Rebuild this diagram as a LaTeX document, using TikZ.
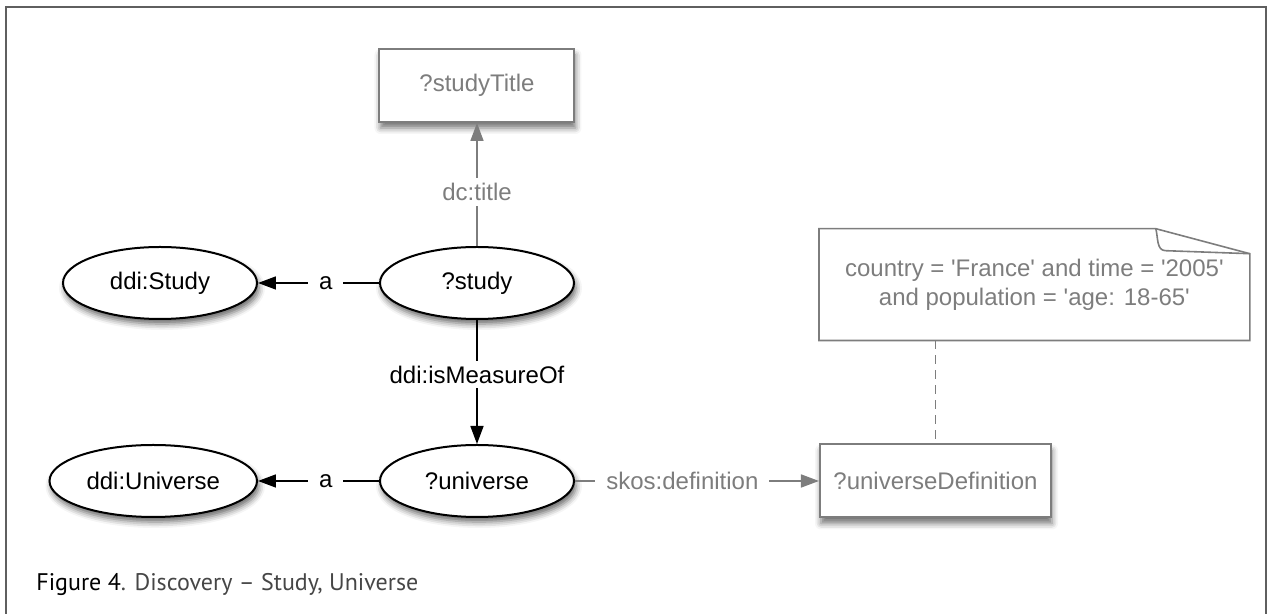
\documentclass[tikz,border=0pt]{standalone}
\usepackage{fontspec}
\setmainfont{Liberation Sans}
\newfontfamily\captionfont{PT Sans}
\usetikzlibrary{positioning, arrows.meta, shapes.geometric, shadows.blur}
\definecolor{lightgrey}{RGB}{125,125,125}
\definecolor{framegrey}{RGB}{95,95,95}
\newcommand{\sq}{\textquotesingle}

\begin{document}
\begin{tikzpicture}[
    font=\fontsize{12pt}{14.5pt}\selectfont,
    res/.style={ellipse, draw, line width=1pt, fill=white, minimum width=97pt, minimum height=36pt,
        blur shadow={shadow xshift=1pt, shadow yshift=-2.5pt, shadow blur radius=3pt, shadow opacity=60}},
    lit/.style={rectangle, draw=lightgrey, text=lightgrey, line width=1pt, fill=white, minimum height=36.5pt,
        blur shadow={shadow xshift=0.5pt, shadow yshift=-3pt, shadow blur radius=3pt, shadow opacity=55}},
    lbl/.style={pos=0.44, fill=white, inner xsep=5.5pt, inner ysep=2.5pt},
    tip/.style={-{Triangle[length=9pt, width=6.5pt]}},
    ]

   \useasboundingbox (-238.5pt,-165.5pt) rectangle (397pt,141.5pt);
   \draw[framegrey, line width=0.75pt] (-235.5pt,-165.5pt) -- (-235.5pt,138pt) -- (394.5pt,138pt) -- (394.5pt,-165.5pt);

   % Study row
   \node[res] (study) {?study};
   \node[res, left=60.5pt of study] (ddistudy) {ddi:Study};
   \node[lit, minimum width=97.5pt, above=61.5pt of study] (title) {?studyTitle};

   % Universe row
   \node[res, below=62pt of study] (universe) {?universe};
   \node[res, left=60.5pt of universe] (ddiuniverse) {ddi:Universe};
   \node[lit, minimum width=115.5pt, right=122pt of universe] (udef) {?universeDefinition};

   % Note
   \node[text=lightgrey, align=center, minimum width=215pt, minimum height=55.5pt,
         above=51.5pt of udef.north west, anchor=south west] (note)
         {country = \sq France\sq{} and time = \sq 2005\sq\\and population = \sq age: 18-65\sq};
   \draw[lightgrey, line width=0.8pt] (note.north west) -- ([xshift=-47pt]note.north east)
         -- ([yshift=-12.5pt]note.north east) -- (note.south east) -- (note.south west) -- cycle;
   \draw[lightgrey, line width=0.8pt] ([xshift=-47pt]note.north east) to[out=-75, in=180]
         ([xshift=-42pt, yshift=-11pt]note.north east) -- ([yshift=-12.5pt]note.north east);

   \coordinate (n_foot) at (note.south -| udef.north);
   \draw[lightgrey, line width=0.8pt, dash pattern=on 4.5pt off 3pt] (n_foot) -- (udef);

   \draw[tip, line width=0.8pt] (study) -- node[lbl] {a} (ddistudy);
   \draw[tip, line width=0.8pt] (universe) -- node[lbl] {a} (ddiuniverse);
   \draw[tip, line width=0.8pt] (study) -- node[lbl] {ddi:isMeasureOf} (universe);
   \draw[tip, line width=0.8pt, lightgrey] (study) -- node[lbl, text=lightgrey] {dc:title} (title);
   \draw[tip, line width=0.8pt, lightgrey] (universe) -- node[lbl, text=lightgrey] {skos:definition} (udef);

   % Caption
   \node[anchor=west, inner sep=0pt, font=\captionfont\fontsize{12pt}{14pt}\selectfont] (caption)
         at (-220.5pt,-151pt) {\textcolor{black}{Figure 4}\textcolor[RGB]{70,70,70}{. Discovery – Study, Universe}};

\end{tikzpicture}
\end{document}
